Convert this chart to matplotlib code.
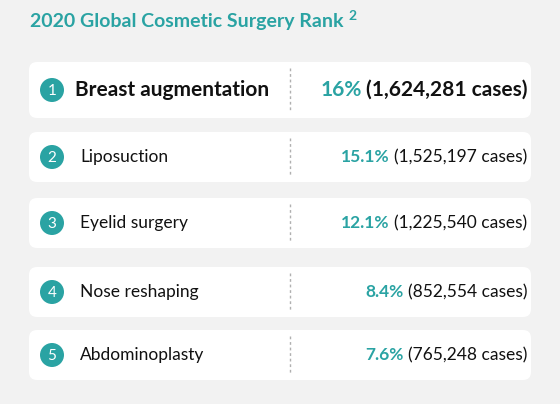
import matplotlib
matplotlib.use("Agg")
import matplotlib.pyplot as plt
from matplotlib.patches import FancyBboxPatch, Circle

ranks = [1, 2, 3, 4, 5]
procedures = ["Breast augmentation", "Liposuction", "Eyelid surgery", "Nose reshaping", "Abdominoplasty"]
shares = ["16%", "15.1%", "12.1%", "8.4%", "7.6%"]
cases = ["(1,624,281 cases)", "(1,525,197 cases)", "(1,225,540 cases)", "(852,554 cases)", "(765,248 cases)"]

teal = "#2aa3a3"
bg = "#f2f2f2"
plt.rcParams['font.family'] = ['Lato', 'DejaVu Sans']

fig = plt.figure(figsize=(5.6, 4.04), dpi=100, facecolor=bg)
ax = fig.add_axes([0, 0, 1, 1])
ax.set_xlim(0, 560); ax.set_ylim(404, 0); ax.axis('off')
ax.set_facecolor(bg)

tt = ax.text(30, 22, "2020 Global Cosmetic Surgery Rank", color=teal, fontsize=14, fontweight='bold', va='center')
fig.canvas.draw()
tb = tt.get_window_extent().transformed(ax.transData.inverted())
ax.text(max(tb.x0, tb.x1) + 5, 16, "2", color=teal, fontsize=10, fontweight='bold', va='center')

centers = [90, 157, 223, 292, 355]
heights = [56, 50, 50, 50, 50]
for i, (r, p, s, c) in enumerate(zip(ranks, procedures, shares, cases)):
    cy = centers[i]; h = heights[i]
    ax.add_patch(FancyBboxPatch((29, cy - h/2), 502, h, boxstyle="round,pad=0,rounding_size=8",
                                fc='white', ec='none'))
    ax.add_patch(Circle((52, cy), 12, fc=teal, ec='none'))
    ax.text(52, cy + 1, str(r), color='white', fontsize=11, ha='center', va='center')
    ax.plot([290, 290], [cy - h/2 + 6, cy + h/2 - 6], color='#b0b0b0', lw=1, ls=(0, (2, 2)))
    big = i == 0
    fs = 15 if big else 12.5
    fw = 'bold' if big else 'normal'
    ax.text(75 if big else 80, cy, p, fontsize=fs, fontweight=fw, color='#111111', va='center')
    t = ax.text(527, cy, c, fontsize=fs, fontweight=fw, color='#111111', va='center', ha='right')
    fig.canvas.draw()
    bb = t.get_window_extent().transformed(ax.transData.inverted())
    x0 = min(bb.x0, bb.x1)
    ax.text(x0 - 4, cy, s, fontsize=fs, fontweight='bold', color=teal, va='center', ha='right')

fig.savefig("out.png", dpi=100, facecolor=bg)
